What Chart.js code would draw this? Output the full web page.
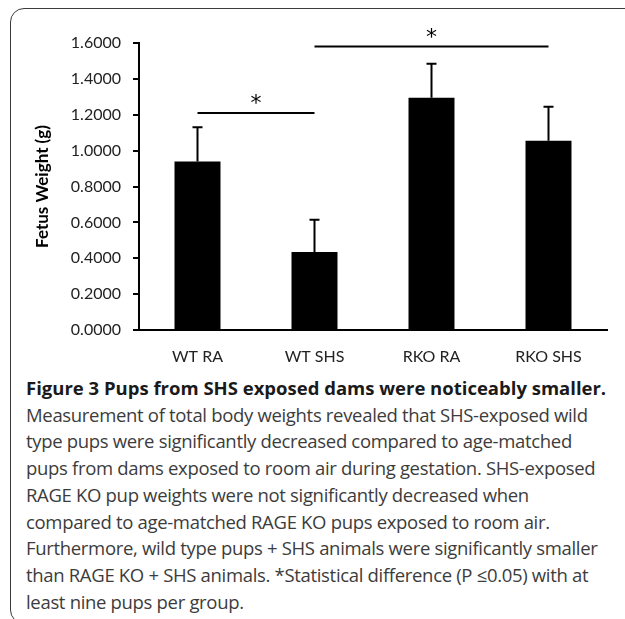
<!DOCTYPE html>
<html>
<head>
<meta charset="utf-8">
<script src="https://cdn.jsdelivr.net/npm/chart.js@4.4.1/dist/chart.umd.min.js"></script>
<style>
  html, body { margin: 0; padding: 0; background: #fff; overflow: hidden; }
  body { width: 625px; height: 619px; position: relative; }
  #frame {
    position: absolute; left: 10px; top: 8px; width: 700px; height: 616px;
    border: 1.5px solid #3a3a3a; border-radius: 14px; box-sizing: border-box;
  }
  #chartBox { position: absolute; left: 0; top: 0; width: 625px; height: 370px; }
  #caption {
    position: absolute; left: 26px; top: 375px; width: 600px;
    font-family: "Open Sans", sans-serif; color: #3c3c3c;
    font-size: 18.5px; line-height: 26.7px; letter-spacing: -0.32px;
  }
  #caption div { white-space: nowrap; }
  #caption .title { font-weight: bold; color: #1a1a1a; letter-spacing: 0; }
</style>
</head>
<body>
<div id="frame"></div>
<div id="chartBox"><canvas id="weightChart" width="625" height="370"></canvas></div>
<div id="caption">
  <div class="title">Figure 3 Pups from SHS exposed dams were noticeably smaller.</div>
  <div>Measurement of total body weights revealed that SHS-exposed wild</div>
  <div>type pups were significantly decreased compared to age-matched</div>
  <div>pups from dams exposed to room air during gestation. SHS-exposed</div>
  <div>RAGE KO pup weights were not significantly decreased when</div>
  <div>compared to age-matched RAGE KO pups exposed to room air.</div>
  <div>Furthermore, wild type pups + SHS animals were significantly smaller</div>
  <div>than RAGE KO + SHS animals. *Statistical difference (P ≤0.05) with at</div>
  <div>least nine pups per group.</div>
</div>
<script>
const groups = ['WT RA', 'WT SHS', 'RKO RA', 'RKO SHS'];
const meanWeight = [0.94, 0.435, 1.295, 1.055];
const sdWeight = [0.19, 0.18, 0.19, 0.19];
const yMax = 1.6;
const yStep = 0.2;
// significance bars: from group index, to group index, height in g
const sigFrom = [0, 1];
const sigTo = [1, 3];
const sigLevel = [1.21, 1.58];

// error bars drawn above each bar
const errorBars = {
    id: 'errorBars',
    afterDatasetsDraw(chart) {
        const ctx = chart.ctx;
        const y = chart.scales.y;
        const meta = chart.getDatasetMeta(0);
        ctx.save();
        ctx.strokeStyle = '#000';
        ctx.lineWidth = 2;
        meta.data.forEach((bar, i) => {
            const top = y.getPixelForValue(meanWeight[i] + sdWeight[i]);
            ctx.beginPath();
            ctx.moveTo(bar.x, bar.y);
            ctx.lineTo(bar.x, top);
            ctx.moveTo(bar.x - 5, top);
            ctx.lineTo(bar.x + 5, top);
            ctx.stroke();
        });
        ctx.restore();
    }
};

// significance lines with asterisks
const sigMarks = {
    id: 'sigMarks',
    afterDraw(chart) {
        const ctx = chart.ctx;
        const x = chart.scales.x;
        const y = chart.scales.y;
        ctx.save();
        ctx.strokeStyle = '#000';
        ctx.fillStyle = '#000';
        ctx.lineWidth = 2;
        ctx.font = '22px "DejaVu Sans"';
        ctx.textAlign = 'center';
        ctx.textBaseline = 'alphabetic';
        for (let k = 0; k < sigFrom.length; k++) {
            const x1 = x.getPixelForValue(sigFrom[k]);
            const x2 = x.getPixelForValue(sigTo[k]);
            const py = y.getPixelForValue(sigLevel[k]);
            ctx.beginPath();
            ctx.moveTo(x1, py);
            ctx.lineTo(x2, py);
            ctx.stroke();
            ctx.fillText('*', (x1 + x2) / 2, py - 3);
        }
        ctx.restore();
    }
};

const ctx = document.getElementById('weightChart').getContext('2d');
new Chart(ctx, {
    type: 'bar',
    data: {
        labels: groups,
        datasets: [{
            data: meanWeight,
            backgroundColor: '#000',
            borderWidth: 0,
            barPercentage: 0.393,
            categoryPercentage: 1
        }]
    },
    options: {
        responsive: false,
        animation: false,
        layout: { padding: { left: 0, top: 43, right: 18, bottom: 0 } },
        plugins: { legend: { display: false }, tooltip: { enabled: false } },
        scales: {
            x: {
                grid: { display: false },
                border: { display: true, color: '#000', width: 2 },
                ticks: { color: '#222', padding: 9, font: { family: 'Lato', size: 16 } },
                afterFit: s => { s.height = 40; }
            },
            y: {
                min: 0,
                max: yMax,
                ticks: {
                    stepSize: yStep,
                    color: '#222',
                    padding: 12,
                    font: { family: 'Lato', size: 16 },
                    callback: v => v.toFixed(4)
                },
                grid: { drawOnChartArea: false, tickLength: 6, color: '#000', lineWidth: 2 },
                border: { display: true, color: '#000', width: 2 },
                title: {
                    display: true,
                    text: 'Fetus Weight (g)',
                    color: '#000',
                    font: { family: 'Lato', size: 17, weight: 'bold' },
                    padding: { top: 32, bottom: 0 }
                },
                afterFit: s => { s.width = 139; }
            }
        }
    },
    plugins: [errorBars, sigMarks]
});
</script>
</body>
</html>
